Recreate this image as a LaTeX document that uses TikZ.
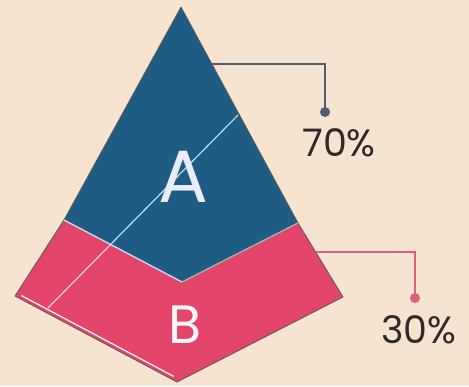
\documentclass[tikz,border=0pt]{standalone}
\usepackage{fontspec}
\setmainfont{Poppins}
\usetikzlibrary{positioning, calc}

\definecolor{paper}{RGB}{247,228,208}
\definecolor{topblue}{RGB}{31,92,132}
\definecolor{lowpink}{RGB}{227,68,106}
\definecolor{inkdark}{RGB}{48,42,38}
\definecolor{leadblue}{RGB}{80,92,108}
\definecolor{leadpink}{RGB}{222,96,122}

\begin{document}
\begin{tikzpicture}[
		x=1pt, y=-1pt,
		face/.style={draw=gray!70!black, line width=0.8pt, line join=round},
		ridge/.style={line width=1.3pt},
		lead/.style={line width=1.6pt},
		dot/.style={circle, inner sep=0pt, minimum size=10pt},
		pct/.style={font=\fontsize{38}{38}\selectfont, text=inkdark, inner sep=0pt},
		letter/.style={inner sep=0pt}
	]

	\fill[paper] (0,0) rectangle (469,386);
	\useasboundingbox (0,0) rectangle (469,386);

	% pyramid corners
	\coordinate (top) at (181,7);
	\coordinate (lft) at (64,220);
	\coordinate (rgt) at (298,223);
	\coordinate (vee) at (182,282);
	\coordinate (blft) at (15,296);
	\coordinate (bot) at (177,382);
	\coordinate (brgt) at (343,297);

	% faces
	\filldraw[face, fill=lowpink] (lft) -- (vee) -- (rgt) -- (brgt) -- (bot) -- (blft) -- cycle;
	\filldraw[face, fill=topblue] (top) -- (rgt) -- (vee) -- (lft) -- cycle;

	% hidden edge
	\coordinate (hid1) at (238,115);
	\coordinate (hid2) at (48,308);
	\coordinate (hidx) at (intersection of hid1--hid2 and lft--vee);
	\draw[line width=1.1pt, cyan!25!white] (hid1) -- (hidx);
	\draw[line width=1.1pt, pink!60!white] (hidx) -- (hid2);

	% ridges
	\draw[ridge, white!85!blue] (lft) -- (vee);
	\draw[ridge, gray!60] (vee) -- (rgt);
	\draw[line width=1.2pt, white!90!pink]
		([shift={(1.6,-3)}]$(blft)!0.03!(bot)$) -- ([shift={(1.6,-3)}]$(blft)!0.97!(bot)$);

	% labels
	\node[letter, text=white!92!blue, font=\fontsize{74}{74}\selectfont] (labA) at (183,177) {A};
	\node[letter, text=white!88!pink, font=\fontsize{54}{54}\selectfont] (labB) at (185,325) {B};

	% 70% callout
	\coordinate (c70) at ($(top)!0.265!(rgt)$);
	\node[dot, fill=leadblue] (d70) at (325,112) {};
	\draw[lead, leadblue] (c70) -| (d70.center);
	\node[pct] (t70) at (339,143) {70\%};

	% 30% callout
	\coordinate (c30) at ($(rgt)!0.39!(brgt)$);
	\node[dot, fill=leadpink] (d30) at (415,298) {};
	\draw[lead, leadpink] (c30) -| (d30.center);
	\node[pct] (t30) at (419,330) {30\%};

\end{tikzpicture}
\end{document}
